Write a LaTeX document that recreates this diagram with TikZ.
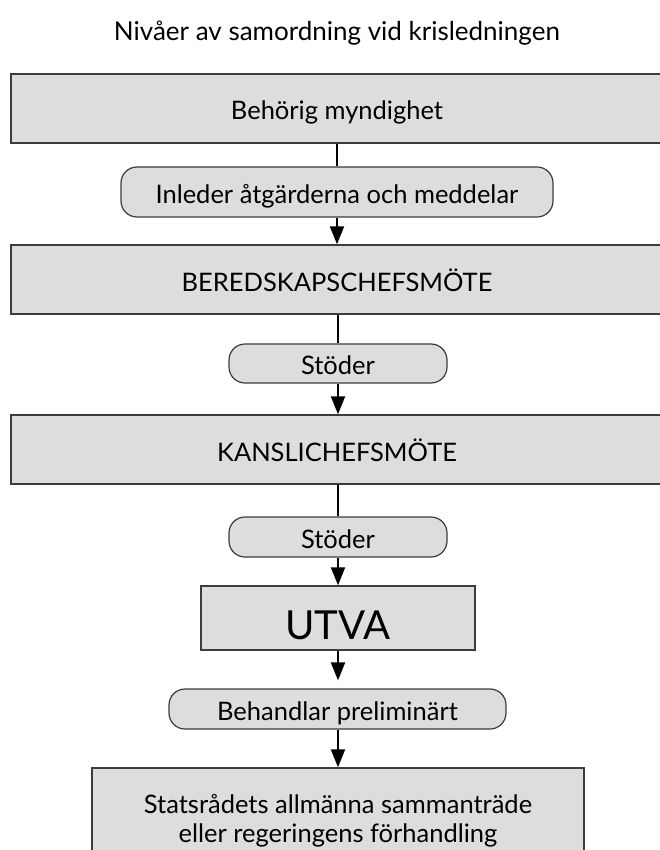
\documentclass[tikz,border=0pt]{standalone}
\usepackage{fontspec}
\setmainfont{Lato}
\usetikzlibrary{arrows.meta,positioning}
\definecolor{boxgray}{HTML}{DCDDDF}
\definecolor{rim}{HTML}{3C3C3C}

\begin{document}
\begin{tikzpicture}[x=1pt,y=-1pt,
 level/.style={draw=rim,fill=boxgray,line width=1.4pt,inner sep=0pt,font=\fontsize{25.5}{29}\selectfont,align=center},
 act/.style={draw=rim,fill=boxgray,line width=1.2pt,rounded corners=16pt,inner sep=0pt,font=\fontsize{25.5}{29}\selectfont},
 oneline/.style={text height=#1,text depth=0pt},
 link/.style={line width=2pt},
 flow/.style={line width=2pt,-{Triangle[width=14pt,length=18pt]}}]
\useasboundingbox (0,0) rectangle (660,850);
\node[font=\fontsize{26}{30}\selectfont] (title) at (337,33) {Nivåer av samordning vid krisledningen};
% levels and what each step does
\node[level,oneline=22pt,minimum width=652pt,minimum height=69pt] (beh) at (337,108.5) {Behörig myndighet};
\node[act,oneline=24pt,minimum width=432pt,minimum height=50pt] (act1) at (337,192) {Inleder åtgärderna och meddelar};
\node[level,oneline=24pt,minimum width=652pt,minimum height=69pt] (bered) at (337,279.5) {BEREDSKAPSCHEFSMÖTE};
\node[act,oneline=22pt,minimum width=218pt,minimum height=39pt] (act2) at (338,363.5) {Stöder};
\node[level,oneline=24pt,minimum width=652pt,minimum height=69pt] (kansli) at (337,449.5) {KANSLICHEFSMÖTE};
\node[act,oneline=22pt,minimum width=218pt,minimum height=40pt] (act3) at (338,537) {Stöder};
\node[level,oneline=42pt,minimum width=274pt,minimum height=64pt,font=\fontsize{40}{44}\selectfont] (utva) at (338,618) {UTVA};
\node[act,oneline=22pt,minimum width=337pt,minimum height=40pt] (act4) at (337.5,709) {Behandlar preliminärt};
\node[level,minimum width=492pt,minimum height=105pt] (stats) at (338,820.5) {Statsrådets allmänna sammanträde\\eller regeringens förhandling};
% connectors
\draw[link] (beh.south -| act1.north) -- (act1.north);\draw[flow] (act1.south) -- (act1.south |- bered.north);
\draw[link] (bered.south -| act2.north) -- (act2.north);\draw[flow] (act2.south) -- (act2.south |- kansli.north);
\draw[link] (kansli.south -| act3.north) -- (act3.north);\draw[flow] (act3.south) -- (act3.south |- utva.north);
\draw[flow,shorten >=8pt] (utva.south) -- (utva.south |- act4.north);\draw[flow] (act4.south -| stats.north) -- (stats.north);
\end{tikzpicture}
\end{document}
